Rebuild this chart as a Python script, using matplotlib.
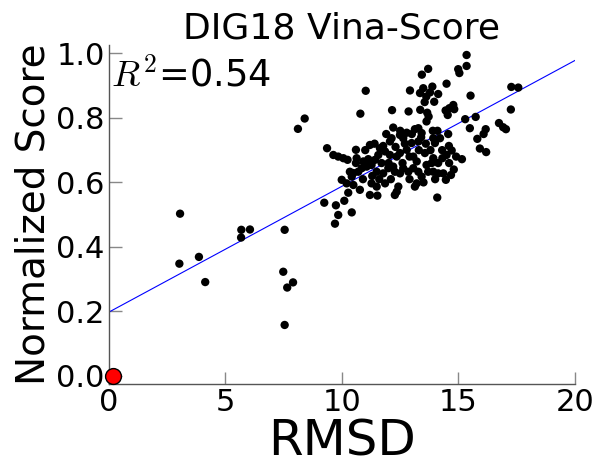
import numpy as np
import matplotlib
matplotlib.use("Agg")
import matplotlib.pyplot as plt

plt.rcParams['mathtext.fontset'] = 'cm'
plt.rcParams['font.family'] = ['DejaVu Sans']

title = "DIG18 Vina-Score"
xlabel = "RMSD"
ylabel = "Normalized Score"
r2_text = r"$R^2$=0.54"
xticks = [0, 5, 10, 15, 20]
yticks = [0.0, 0.2, 0.4, 0.6, 0.8, 1.0]
ytick_labels = ["0.0", "0.2", "0.4", "0.6", "0.8", "1.0"]

# fitted line
line_intercept = 0.198
line_slope = 0.039

# reference (native) pose
ref_x = [0.17]
ref_y = [0.0]

pts = [
    (3.05,0.503),(3.02,0.348),(3.86,0.369),(4.13,0.291),(5.68,0.453),(5.67,0.429),(6.05,0.454),
    (7.54,0.453),(7.48,0.323),(7.65,0.274),(7.90,0.290),(7.54,0.158),(8.11,0.766),(8.40,0.798),
    (9.36,0.706),(9.24,0.537),
    (9.74,0.529),(9.84,0.499),(9.70,0.472),(10.42,0.507),(10.10,0.543),(10.27,0.568),(9.99,0.608),
    (10.20,0.597),(10.49,0.592),(10.77,0.577),(11.20,0.561),(11.52,0.559),(11.27,0.597),(11.49,0.587),
    (11.85,0.597),(12.42,0.587),(12.35,0.571),(12.27,0.561),(13.21,0.597),(13.13,0.587),(14.09,0.553),
    (14.46,0.608),
    (9.63,0.685),(9.84,0.680),(10.06,0.675),(10.24,0.670),
    (10.60,0.701),(10.63,0.675),(11.20,0.716),(11.63,0.706),(11.77,0.713),(12.06,0.727),(12.13,0.737),
    (12.49,0.747),(12.63,0.737),(12.78,0.754),(13.13,0.765),(13.28,0.768),(13.42,0.753),(13.28,0.727),
    (12.99,0.722),(13.92,0.737),(13.99,0.722),(14.21,0.737),(14.56,0.750),(14.59,0.713),(14.71,0.699),
    (14.49,0.685),(14.31,0.675),(14.13,0.660),(13.92,0.675),(13.85,0.660),(13.63,0.654),(13.56,0.691),
    (13.06,0.680),(13.21,0.665),(12.78,0.701),(12.49,0.691),(12.35,0.680),(12.06,0.685),(11.85,0.696),
    (11.56,0.685),(11.42,0.670),(11.27,0.654),(11.06,0.649),(10.85,0.644),(10.70,0.633),(10.49,0.629),
    (10.34,0.633),(10.42,0.618),(11.49,0.633),(11.77,0.628),(11.99,0.644),(12.20,0.649),(12.27,0.633),
    (12.49,0.628),(12.63,0.644),(12.85,0.633),(13.06,0.644),(13.28,0.633),(13.42,0.618),(13.70,0.633),
    (13.92,0.633),(14.13,0.628),(14.35,0.628),(14.68,0.623),(10.92,0.665),(11.13,0.672),(15.15,0.672),
    (15.35,0.995),(15.35,0.961),(14.99,0.951),(15.04,0.939),(13.70,0.952),(13.43,0.934),(11.02,0.884),
    (12.92,0.885),(14.49,0.906),(13.49,0.892),(13.88,0.897),(13.35,0.877),(13.78,0.879),(14.13,0.874),
    (13.62,0.866),(13.55,0.849),(13.96,0.850),(15.52,0.869),(17.27,0.896),(17.57,0.894),(10.79,0.813),
    (12.15,0.824),(12.86,0.820),(13.36,0.825),(13.66,0.816),(13.72,0.804),(13.63,0.789),(14.45,0.823),
    (14.54,0.809),(14.78,0.840),(14.82,0.827),(14.61,0.830),(17.25,0.826),(15.29,0.796),(15.74,0.803),
    (16.74,0.784),(16.92,0.771),(17.04,0.765),(15.49,0.768),(16.17,0.765),(16.08,0.750),(15.81,0.735),
    (15.92,0.705),(16.19,0.694),
    (11.0,0.70),(11.4,0.72),(12.3,0.71),(12.0,0.66),(12.6,0.66),(12.9,0.68),(13.3,0.70),(13.6,0.72),
    (13.0,0.75),(12.5,0.76),(11.7,0.66),(11.3,0.62),(12.1,0.61),(12.9,0.61),(13.5,0.60),(14.0,0.61),
    (14.3,0.70),(14.8,0.64),(14.9,0.68),(13.9,0.76),(12.2,0.77),(11.9,0.75),(10.9,0.61),(11.6,0.61),
    (10.6,0.66),(12.7,0.72),(13.4,0.74),(14.1,0.76),(13.8,0.70),(14.6,0.66),
]
rmsd = [p[0] for p in pts]
score = [p[1] for p in pts]

fig = plt.figure(figsize=(5.97, 4.75), dpi=100)
ax = fig.add_axes([0.1826, 0.1916, 0.963 - 0.1826, 0.713])

ax.scatter(rmsd, score, s=36, color='black', edgecolors='none', zorder=3)
lx = np.array([0, 20])
ax.plot(lx, line_intercept + line_slope * lx, color='blue', lw=0.8, zorder=2)
ax.scatter(ref_x, ref_y, s=130, color='red', edgecolors='black', linewidths=1, zorder=4, clip_on=False)

ax.set_xlim(0, 20)
ax.set_ylim(-0.025, 1.025)
ax.set_xticks(xticks)
ax.set_yticks(yticks)
ax.set_yticklabels(ytick_labels)
ax.tick_params(direction='in', length=9, width=1, color='#888888', labelsize=22, pad=3)
for s in ['top', 'right']:
    ax.spines[s].set_visible(False)
for s in ['left', 'bottom']:
    ax.spines[s].set_color('#555555')
    ax.spines[s].set_linewidth(1)

ax.set_title(title, fontsize=26, pad=1.5)
ax.set_xlabel(xlabel, fontsize=36, labelpad=0)
ax.set_ylabel(ylabel, fontsize=28, labelpad=3)
ax.text(0.005, 0.9, r2_text, transform=ax.get_yaxis_transform(), fontsize=26.5,
        va='baseline', ha='left')

fig.savefig("out.png", dpi=100)
